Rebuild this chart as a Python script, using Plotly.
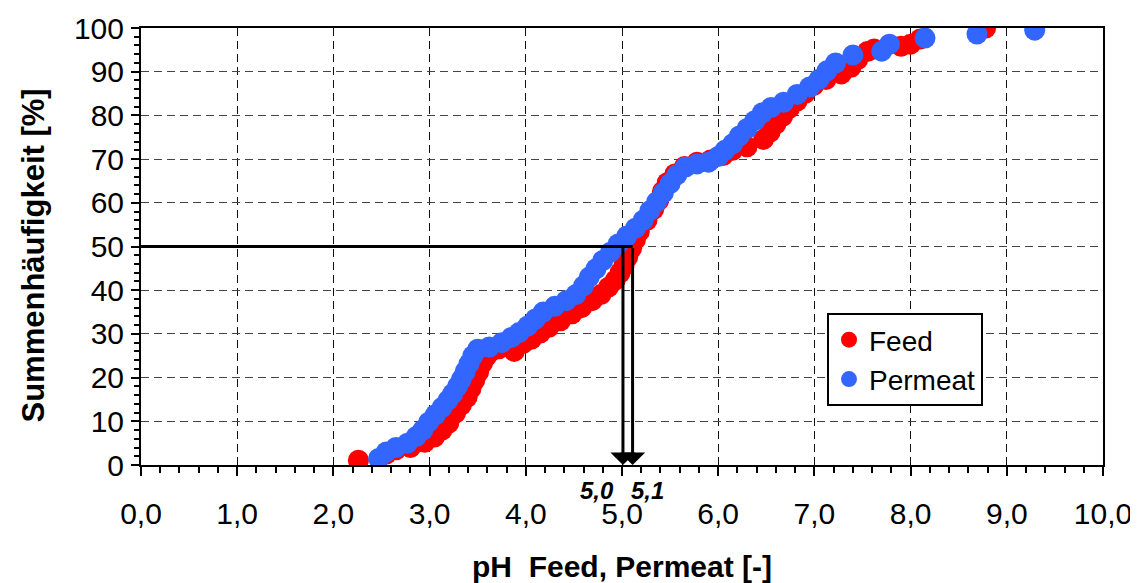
import plotly.graph_objects as go

# ---- data ----
feed_ph = [2.26, 2.55, 2.65, 2.80, 2.95, 3.05, 3.13, 3.20, 3.27, 3.33, 3.39, 3.43, 3.47, 3.51,
           3.55, 3.59, 3.64, 3.72, 3.88, 3.97, 4.06, 4.15, 4.24, 4.36, 4.48, 4.58, 4.69,
           4.78, 4.86, 4.93, 4.98, 5.02, 5.06, 5.10, 5.14, 5.18, 5.26, 5.33, 5.38, 5.42, 5.47,
           5.55, 5.65, 5.78, 5.92, 6.05, 6.15, 6.30, 6.47, 6.54, 6.60, 6.67, 6.74, 6.82, 6.90,
           6.99, 7.12, 7.28, 7.38, 7.45, 7.55, 7.62, 7.90, 8.00, 8.10, 8.78]
feed_cum = [1.1, 2.5, 3.5, 4.0, 5.2, 6.4, 8.0, 9.6, 11.9, 13.7, 15.5, 17.5, 19.4, 21.3,
            23.3, 24.8, 26.0, 26.6, 26.0, 27.8, 28.8, 30.2, 31.5, 33.0, 34.6, 36.0, 37.6,
            39.0, 40.7, 42.3, 44.0, 45.6, 47.6, 49.6, 51.6, 53.4, 56.0, 58.5, 60.5, 62.6, 64.6,
            66.6, 68.3, 69.3, 69.8, 70.8, 72.0, 72.8, 74.5, 76.2, 78.0, 79.8, 81.6, 83.3, 85.0,
            86.8, 88.2, 89.5, 91.0, 92.8, 94.6, 95.2, 95.8, 96.3, 97.5, 100.0]

perm_ph = [2.47, 2.55, 2.65, 2.77, 2.86, 2.93, 2.99, 3.06, 3.13, 3.19, 3.24, 3.29, 3.33, 3.37,
           3.41, 3.45, 3.50, 3.62, 3.75, 3.85, 3.93, 4.02, 4.10, 4.18, 4.30, 4.42, 4.52, 4.60,
           4.66, 4.73, 4.80, 4.88, 4.96, 5.05, 5.14, 5.22, 5.29, 5.36, 5.43, 5.50, 5.57, 5.66,
           5.78, 5.90, 6.00, 6.07, 6.15, 6.22, 6.30, 6.38, 6.46, 6.55, 6.68, 6.82, 6.95, 7.05,
           7.13, 7.22, 7.40, 7.70, 7.78, 8.15, 8.69, 9.29]
perm_cum = [1.5, 3.0, 4.0, 5.0, 6.5, 8.0, 9.8, 11.5, 13.2, 14.8, 16.3, 18.0, 19.6, 21.4,
            23.2, 25.0, 26.5, 27.0, 28.0, 29.2, 30.3, 31.8, 33.4, 35.0, 36.3, 37.6, 39.0, 41.0,
            43.0, 44.9, 46.8, 48.7, 50.6, 52.4, 54.2, 56.0, 58.2, 60.2, 62.3, 64.4, 66.4, 68.2,
            68.9, 69.3, 70.6, 72.0, 73.5, 75.3, 77.0, 78.8, 80.6, 81.8, 83.0, 84.8, 86.5, 88.3,
            90.2, 92.0, 93.8, 94.7, 96.3, 97.7, 98.6, 99.5]

series_names = ["Feed", "Permeat"]
median_ph = [5.01, 5.11]          # Feed / Permeat medians (arrows)
median_labels = ["5,0", "5,1"]
median_label_x = [4.74, 5.27]
median_level = 50

x_tickvals = [0, 1, 2, 3, 4, 5, 6, 7, 8, 9, 10]
x_ticktext = ["0,0", "1,0", "2,0", "3,0", "4,0", "5,0", "6,0", "7,0", "8,0", "9,0", "10,0"]
y_tickvals = [0, 10, 20, 30, 40, 50, 60, 70, 80, 90, 100]

x_title = "pH  Feed, Permeat [-]"
y_title = "Summenhäufigkeit [%]"

FONT = "Liberation Sans, Arial, sans-serif"

# the page body has an 8px default margin -> figure is 8px smaller, margins compensated
W, H = 1130, 575
ML, MR, MT, MB = 133, 35, 20, 118
PW, PH = W - ML - MR, H - MT - MB

fig = go.Figure()
fig.add_trace(go.Scatter(x=feed_ph, y=feed_cum, mode="markers", name=series_names[0],
                         marker=dict(color="#FF0000", size=21, line=dict(width=0))))
fig.add_trace(go.Scatter(x=perm_ph, y=perm_cum, mode="markers", name=series_names[1],
                         marker=dict(color="#3366FF", size=21, line=dict(width=0))))

# horizontal 50 % line
fig.add_shape(type="line", xref="x", yref="y", x0=0, x1=median_ph[1], y0=median_level, y1=median_level,
              line=dict(color="black", width=3), layer="above")

# vertical arrows down to the axis + labels
for xv, lab, lxv in zip(median_ph, median_labels, median_label_x):
    fig.add_annotation(x=xv, y=0, ax=xv, ay=median_level, xref="x", yref="y", axref="x", ayref="y",
                       text="", showarrow=True, arrowhead=1, arrowwidth=3, arrowsize=1.4,
                       arrowcolor="black")
    fig.add_annotation(x=lxv, y=0, xref="x", yref="y", text="<b><i>%s</i></b>" % lab,
                       showarrow=False, xanchor="center", yanchor="middle", yshift=-25,
                       font=dict(family=FONT, size=24, color="black"))

# y axis title (as annotation, to place it like the reference)
fig.add_annotation(x=0, y=0.5, xref="paper", yref="paper", text="<b>%s</b>" % y_title,
                   textangle=-90, showarrow=False, xanchor="center", yanchor="middle",
                   xshift=-(ML - 25), yshift=-9,
                   font=dict(family=FONT, size=31, color="black"))

fig.update_layout(
    width=W, height=H,
    margin=dict(l=ML, r=MR, t=MT, b=MB),
    paper_bgcolor="white", plot_bgcolor="white",
    font=dict(family=FONT, color="black"),
    showlegend=True,
    legend=dict(x=(819 - ML) / PW, y=(MT + PH - 305) / PH, xanchor="left", yanchor="top",
                bgcolor="white", bordercolor="black", borderwidth=2,
                font=dict(family=FONT, size=28, color="black"),
                itemsizing="trace"),
)

fig.update_xaxes(
    range=[0, 10], tickvals=x_tickvals, ticktext=x_ticktext,
    showline=True, linecolor="black", linewidth=2, mirror=True,
    ticks="outside", ticklen=9, tickwidth=2, tickcolor="black",
    minor=dict(dtick=0.2, ticks="outside", ticklen=6, tickwidth=1.5, tickcolor="black", showgrid=False),
    showgrid=True, gridcolor="#111111", gridwidth=1, griddash="8px,5px",
    zeroline=False,
    tickfont=dict(family=FONT, size=30, color="black"),
    ticklabelstandoff=12,
    title=dict(text="<b>%s</b>" % x_title, font=dict(family=FONT, size=30, color="black"),
               standoff=28),
    automargin=False,
)
fig.update_yaxes(
    range=[0, 100], tickvals=y_tickvals,
    showline=True, linecolor="black", linewidth=2, mirror=True,
    ticks="outside", ticklen=8, tickwidth=2, tickcolor="black",
    minor=dict(dtick=2, ticks="outside", ticklen=5, tickwidth=1.5, tickcolor="black", showgrid=False),
    showgrid=True, gridcolor="#444444", gridwidth=1, griddash="8px,5px",
    zeroline=False,
    tickfont=dict(family=FONT, size=30, color="black"),
    ticklabelstandoff=1,
    automargin=False,
)

fig.write_html("out.html")
